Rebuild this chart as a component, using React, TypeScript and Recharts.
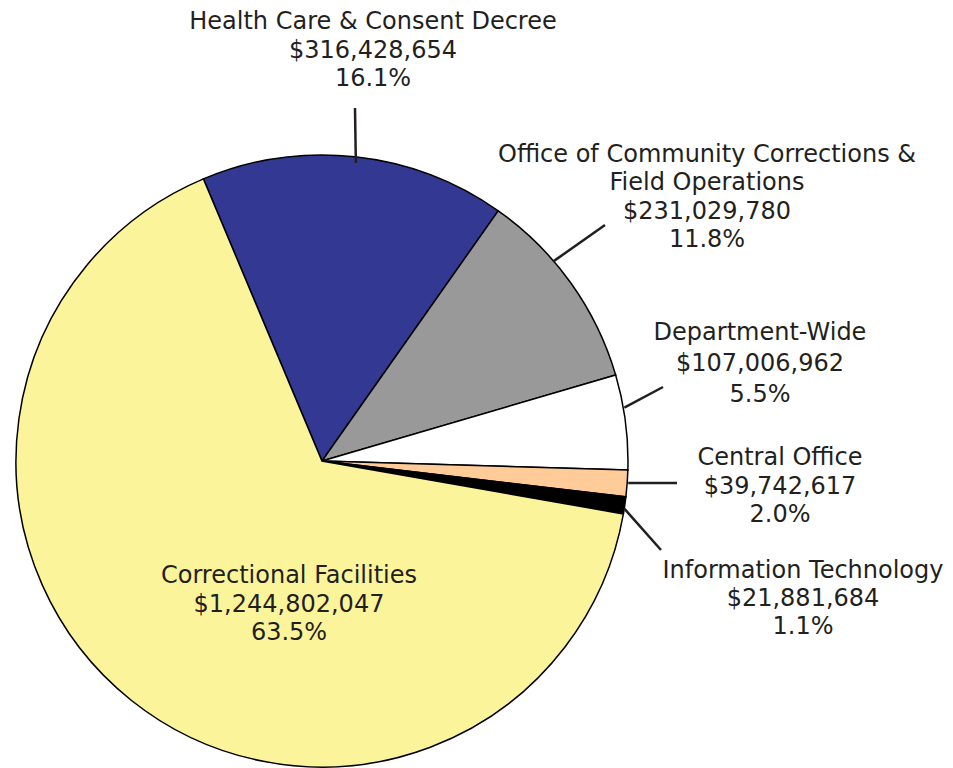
import { Cell, Pie, PieChart } from "recharts";

// Slice order runs clockwise from the top-left edge of the blue slice.
const names = [
  ["Health Care & Consent Decree"],
  ["Office of Community Corrections &", "Field Operations"],
  ["Department-Wide"],
  ["Central Office"],
  ["Information Technology"],
  ["Correctional Facilities"],
];
const amounts = ["$316,428,654", "$231,029,780", "$107,006,962", "$39,742,617", "$21,881,684", "$1,244,802,047"];
const pctLabels = ["16.1%", "11.8%", "5.5%", "2.0%", "1.1%", "63.5%"];
// slice sizes as drawn in the picture (%), which are a bit off from the printed shares
const sliceShare = [16.1, 10.7, 5.0, 1.4, 0.9, 65.9];
const colors = ["#333893", "#999999", "#ffffff", "#ffcc99", "#000000", "#fbf49b"];

const TEXT = "#231f20";
const FONT = 24;

// label placement relative to the pie centre
const layout = [
  { shift: -0.3, r: 300, end: [33, -353], tx: 51, ty: -432, gap: 28.5 },
  { shift: 5.2, r: 306, end: [283, -236], tx: 385, ty: -299, gap: 28.3 },
  { shift: 2.7, r: 307, end: [341, -74], tx: 438, ty: -121, gap: 31 },
  { shift: 0.1, r: 307, end: [355, 22], tx: 458, ty: 4, gap: 28.5 },
  { shift: -0.6, r: 306, end: [339, 89], tx: 481, ty: 117, gap: 27.8 },
  { shift: 0, r: 0, end: null, tx: -33, ty: 122, gap: 28.5 },
];

const data = names.map((n, i) => ({ name: n.join(" "), value: sliceShare[i] }));

const RAD = Math.PI / 180;

function renderLabel(props: any) {
  const { cx, cy, midAngle, index } = props;
  const l = layout[index];
  const lines = [...names[index], amounts[index], pctLabels[index]];
  let line = null;
  if (l.end) {
    const a = (midAngle + l.shift) * RAD;
    const x1 = cx + l.r * Math.cos(a);
    const y1 = cy - l.r * Math.sin(a);
    line = <line x1={x1} y1={y1} x2={cx + l.end[0]} y2={cy + l.end[1]} stroke={TEXT} strokeWidth={2.5} />;
  }
  return (
    <g key={`lbl-${index}`}>
      {line}
      {lines.map((t, k) => (
        <text
          key={k}
          x={cx + l.tx}
          y={cy + l.ty + k * l.gap}
          textAnchor="middle"
          fill={TEXT}
          fontSize={FONT}
          fontFamily="'DejaVu Sans', Verdana, sans-serif"
        >
          {t}
        </text>
      ))}
    </g>
  );
}

export default function App() {
  return (
    <div style={{ position: "absolute", left: 0, top: 0, background: "#fff" }}>
      <PieChart width={953} height={768} margin={{ top: 0, right: 0, bottom: 0, left: 0 }}>
        <Pie
          data={data}
          dataKey="value"
          cx={322}
          cy={461}
          outerRadius={306}
          startAngle={112.8}
          endAngle={-247.2}
          stroke="#000"
          strokeWidth={1.5}
          label={renderLabel}
          labelLine={false}
          isAnimationActive={false}
        >
          {data.map((d, i) => (
            <Cell key={d.name} fill={colors[i]} />
          ))}
        </Pie>
      </PieChart>
    </div>
  );
}
